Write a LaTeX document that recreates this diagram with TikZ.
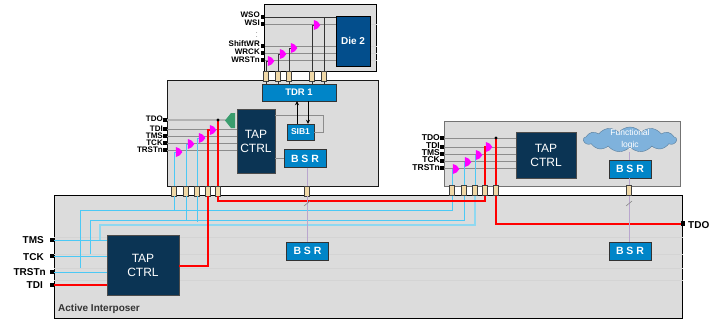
\documentclass[tikz,border=0pt]{standalone}
\usepackage{fontspec}
\setmainfont{Liberation Sans}
\usetikzlibrary{shapes.symbols,arrows.meta}
\definecolor{dieGrey}{HTML}{DCDCDC}
\definecolor{tapNavy}{HTML}{0B3454}
\definecolor{dieBlue}{HTML}{034E8C}
\definecolor{bsrBlue}{HTML}{0085C8}
\definecolor{wireBlue}{HTML}{4CC9F5}
\definecolor{paleBlue}{HTML}{8FD8F0}
\definecolor{tsvTan}{HTML}{F0D9A8}
\definecolor{cloudBlue}{HTML}{7FB2DC}
\definecolor{bsrLine}{HTML}{B9A6CE}
\definecolor{gatePink}{HTML}{FF00FF}
\definecolor{muxGreen}{HTML}{3A9D6E}
\tikzset{
  die/.style={draw=#1, fill=dieGrey, line width=1pt, inner sep=0pt},
  die/.default=black,
  tapbox/.style={draw=black!70, fill=tapNavy, text=white, align=center, font=\fontsize{12}{14}\selectfont, inner sep=0pt},
  bsrbox/.style={draw=black!80, fill=bsrBlue, text=white, font=\fontsize{10.5}{12}\selectfont\bfseries, inner sep=0pt, minimum width=42pt, minimum height=18pt},
  tsv/.style={draw=black!75, fill=tsvTan, line width=0.8pt, inner sep=0pt, minimum width=#1, minimum height=10pt},
  tsv/.default=4.8pt,
  pin/.style={fill=black, inner sep=0pt, minimum size=3.6pt},
  pinlabel/.style={font=\fontsize{#1}{#1}\selectfont\bfseries, inner sep=0pt, anchor=east},
  pinlabel/.default=8,
  greywire/.style={draw=black!45, line width=0.9pt},
  darkwire/.style={draw=black!80, line width=1pt},
  bluewire/.style={draw=wireBlue, line width=1pt},
  palewire/.style={draw=paleBlue, line width=1.3pt},
  redwire/.style={draw=red, line width=2pt},
  bsrwire/.style={draw=bsrLine, line width=0.8pt},
  faintwire/.style={draw=black!17, line width=0.8pt},
  gate/.pic={\fill[gatePink] (-3.2,-5) -- (-3.2,5) .. controls (0,5) and (1.5,2.5) .. (3.4,0) .. controls (1.5,-2.5) and (0,-5) .. (-3.2,-5) -- cycle;}
}
\begin{document}
\begin{tikzpicture}[x=1pt,y=-1pt]
\useasboundingbox (0,0) rectangle (722,322);

% Dies
\node[die, minimum width=112pt, minimum height=67pt] (DieTop) at (320,37.5) {};
\node[die=black!90, minimum width=211pt, minimum height=106pt] (DieMid) at (272.5,133) {};
\node[die=black!55, minimum width=236pt, minimum height=65pt] (DieRight) at (562,153.5) {};
\node[die, minimum width=628pt, minimum height=123pt] (Interposer) at (368,256.5) {};
\node[font=\fontsize{10}{11}\selectfont\bfseries, inner sep=0pt, anchor=west, text=black!80] (IntLabel) at (58,309) {Active Interposer};

% Lignes de fond
\foreach \y in {237,254,268,280}
  \draw[faintwire] (Interposer.west |- 0,\y) -- (Interposer.east |- 0,\y);
\foreach \y in {24,46,53,60}
  \draw[faintwire] (DieTop.west |- 0,\y) -- (DieTop.east |- 0,\y);

% Blocs
\node[draw=black, fill=dieBlue, text=white, font=\fontsize{10}{12}\selectfont\bfseries, minimum width=34pt, minimum height=50pt, inner sep=0pt] (Die2) at (353,41) {Die 2};
\node[draw=black!80, fill=bsrBlue, text=white, font=\fontsize{9.5}{11}\selectfont\bfseries, minimum width=74pt, minimum height=17pt, inner sep=0pt] (TDR) at (299,92.5) {TDR 1};
\node[tapbox, minimum width=38pt, minimum height=64pt] (TapMid) at (256,141) {TAP\\CTRL};
\node[draw=black!80, fill=bsrBlue, text=white, font=\fontsize{8.5}{10}\selectfont\bfseries, minimum width=27pt, minimum height=16pt, inner sep=0pt] (SIB) at (300.5,132) {SIB1};
\node[bsrbox] (BsrMid) at (305,158.5) {B S R};
\node[tapbox, minimum width=60pt, minimum height=46pt] (TapRight) at (546,155) {TAP\\CTRL};
\node[bsrbox] (BsrRight) at (630,169) {B S R};
\node[tapbox, minimum width=72pt, minimum height=60pt] (TapInt) at (143,265) {TAP\\CTRL};
\node[bsrbox] (BsrIntA) at (307.5,251) {B S R};
\node[bsrbox] (BsrIntB) at (630,251) {B S R};

% Pins du haut
\node[pin] (pWSO) at (263,17) {};
\node[pin] (pWSI) at (263,24) {};
\node[pin] (pShift) at (263,46) {};
\node[pin] (pWRCK) at (263,53) {};
\node[pin] (pWRST) at (263,60) {};
\node[pinlabel] (lWSO) at (260,15) {WSO};
\node[pinlabel] (lWSI) at (260,23) {WSI};
\node[pinlabel] (lShift) at (260,44) {ShiftWR};
\node[pinlabel] (lWRCK) at (260,52) {WRCK};
\node[pinlabel] (lWRST) at (260,60) {WRSTn};
\node[font=\fontsize{5.5}{5.5}\selectfont, inner sep=0pt] (lDots) at (257,34.5) {$\vdots$};

% Pins milieu
\node[pin] (pTDOm) at (165,120) {};
\node[pin] (pTDIm) at (165,129) {};
\node[pin] (pTMSm) at (165,136) {};
\node[pin] (pTCKm) at (165,143) {};
\node[pin] (pTRSm) at (165,150) {};
\node[pinlabel] (lTDOm) at (163,119) {TDO};
\node[pinlabel] (lTDIm) at (163,129) {TDI};
\node[pinlabel] (lTMSm) at (163,136) {TMS};
\node[pinlabel] (lTCKm) at (163,143) {TCK};
\node[pinlabel] (lTRSm) at (163,150) {TRSTn};

% Pins droite
\node[pin] (pTDOr) at (442,138) {};
\node[pin] (pTDIr) at (442,147) {};
\node[pin] (pTMSr) at (442,154) {};
\node[pin] (pTCKr) at (442,161) {};
\node[pin] (pTRSr) at (442,168) {};
\node[pinlabel=8.5] (lTDOr) at (440,138) {TDO};
\node[pinlabel=8.5] (lTDIr) at (440,146) {TDI};
\node[pinlabel=8.5] (lTMSr) at (440,153) {TMS};
\node[pinlabel=8.5] (lTCKr) at (440,160) {TCK};
\node[pinlabel=8.5] (lTRSr) at (440,168) {TRSTn};

% Pins interposer
\node[pin, minimum size=4.5pt] (pTMSi) at (52,240) {};
\node[pin, minimum size=4.5pt] (pTCKi) at (52,256) {};
\node[pin, minimum size=4.5pt] (pTRSi) at (52,272) {};
\node[pin, minimum size=4.5pt] (pTDIi) at (52,285) {};
\node[pin, minimum size=4.5pt] (pTDOi) at (683,223.5) {};
\node[pinlabel=10] (lTMSi) at (44,240) {TMS};
\node[pinlabel=10] (lTCKi) at (44,257) {TCK};
\node[pinlabel=10] (lTRSi) at (46,272) {TRSTn};
\node[pinlabel=10] (lTDIi) at (43,285) {TDI};
\node[pinlabel=10, anchor=west] (lTDOi) at (688,225) {TDO};

% Traversees
\foreach \n/\x in {a/266,b/278,c/289,d/312,e/324}
  \node[tsv] (up\n) at (\x,76) {};
\foreach \n/\x in {a/174,b/186,c/197,d/208,e/218}
  \node[tsv] (mid\n) at (\x,191) {};
\node[tsv=5.5pt] (midf) at (307,191) {};
\foreach \n/\x in {a/452,b/464,c/475,d/485,e/496}
  \node[tsv] (rig\n) at (\x,190.5) {};
\node[tsv=5.5pt] (rigf) at (629,190.5) {};

% Portes
\coordinate (G1) at (317,25);
\coordinate (G2) at (294,48);
\coordinate (G3) at (283,54);
\coordinate (G4) at (271,61);
\coordinate (G5) at (213,130);
\coordinate (G6) at (202,138);
\coordinate (G7) at (191,144);
\coordinate (G8) at (179,152);
\coordinate (G9) at (489,147);
\coordinate (G10) at (479,155);
\coordinate (G11) at (468,162);
\coordinate (G12) at (456,169);

% Fils du haut
\draw[greywire] (pWSI) -- (Die2.west |- pWSI);
\draw[greywire] (pShift) -- (Die2.west |- pShift);
\draw[greywire] (pWRCK) -- (Die2.west |- pWRCK);
\draw[greywire] (pWRST) -- (Die2.west |- pWRST);
\draw[darkwire] (pWSO) -- (Die2.west |- pWSO);
\draw[darkwire] (upe.north |- pWSO) -- (upe.north);
\draw[darkwire] (upd.north) |- (G1);
\draw[darkwire] (upc.north) |- (G2);
\draw[darkwire] (upb.north) |- (G3);
\draw[darkwire] (upa.north) |- (G4);
\foreach \n in {a,b,c,d,e}
  \draw[darkwire] (up\n.south) -- (TDR.north -| up\n);

% Fils du milieu
\draw[draw=black!30, line width=1.2pt] (pTDOm) -- (228,120);
\draw[greywire] (pTDIm) -- (TapMid.west |- pTDIm);
\draw[greywire] (pTMSm) -- (TapMid.west |- pTMSm);
\draw[greywire] (pTCKm) -- (TapMid.west |- pTCKm);
\draw[greywire] (pTRSm) -- (TapMid.west |- pTRSm);
\fill[muxGreen] (225,120.5) -- (231,113) -- (235,113) -- (235,128) -- (231,128) -- cycle;
\draw[greywire] (TapMid.east |- 0,115) -- (323,115) |- (SIB.east);
\draw[greywire] (TapMid.east |- BsrMid) -- (BsrMid.west);
\draw[-{Stealth[length=4pt,width=4pt]}, black, line width=0.8pt] (SIB.north -| 297,0) -- (TDR.south -| 297,0);
\draw[-{Stealth[length=4pt,width=4pt]}, black, line width=0.8pt] (TDR.south -| 308,0) -- (SIB.north -| 308,0);
\draw[bluewire] (mida.north) |- (G8);
\draw[bluewire] (midb.north) |- (G7);
\draw[bluewire] (midc.north) |- (G6);
\draw[redwire] (midd.north) |- (G5);
\draw[redwire] (mide.north) -- (mide.north |- pTDOm);
\fill (mide.north |- pTDOm) circle (1.7pt);

% Fils de droite
\draw[greywire] (pTDOr) -- (TapRight.west |- pTDOr);
\draw[greywire] (pTDIr) -- (TapRight.west |- pTDIr);
\draw[greywire] (pTMSr) -- (TapRight.west |- pTMSr);
\draw[greywire] (pTCKr) -- (TapRight.west |- pTCKr);
\draw[greywire] (pTRSr) -- (TapRight.west |- pTRSr);
\draw[bluewire] (riga.north) |- (G12);
\draw[bluewire] (rigb.north) |- (G11);
\draw[bluewire] (rigc.north) |- (G10);
\draw[redwire] (rigd.north) |- (G9);
\draw[redwire] (rige.north) -- (rige.north |- pTDOr);
\fill (rige.north |- pTDOr) circle (1.7pt);

% Portes magenta
\foreach \g in {G1,G2,G3,G4,G5,G6,G7,G8,G9,G10,G11,G12}
  \pic at (\g) {gate};

% Nuage
\node[cloud, cloud puffs=13, cloud puff arc=100, aspect=4, draw=cloudBlue!70!black, fill=cloudBlue, inner sep=0pt, minimum width=93pt, minimum height=25pt] (Cloud) at (630,139.5) {};
\node[text=white, inner sep=0pt, align=center, font=\fontsize{8.5}{12}\selectfont] (CloudText) at (Cloud) {Functional\\logic};

% Fils de l'interposer
\draw[bluewire] (pTMSi) -- (TapInt.west |- pTMSi);
\draw[bluewire] (pTCKi) -- (TapInt.west |- pTCKi);
\draw[bluewire] (pTRSi) -- (TapInt.west |- pTRSi);
\draw[palewire] (100,240) |- (rigc.south |- 0,225) -- (rigc.south);
\draw[bluewire] (90,254) |- (rigb.south |- 0,220) -- (rigb.south);
\draw[bluewire] (80,268) |- (riga.south |- 0,210) -- (riga.south);
\draw[bluewire] (mida.south) -- (mida.south |- 0,210);
\draw[bluewire] (midb.south) -- (midb.south |- 0,220);
\draw[bluewire] (midc.south) -- (midc.south |- 0,222);
\draw[redwire] (pTDIi) -- (TapInt.west |- pTDIi);
\draw[redwire] (TapInt.east |- 0,266) -| (midd.south);
\draw[redwire] (mide.south) |- (rigd.south |- 0,201) -- (rigd.south);
\draw[redwire] (rige.south) |- (pTDOi);

% Fils BSR
\draw[bsrwire] (BsrMid.south -| midf) -- (midf.north);
\draw[bsrwire] (midf.south) -- (BsrIntA.north -| midf);
\draw[bsrwire] (629,152) -- (BsrRight.north -| rigf);
\draw[bsrwire] (BsrRight.south -| rigf) -- (rigf.north);
\draw[bsrwire] (rigf.south) -- (BsrIntB.north -| rigf);
\draw[black!50, line width=0.5pt] (304,206) -- (310,201);
\draw[black!50, line width=0.5pt] (626,206) -- (632,201);
\end{tikzpicture}
\end{document}
